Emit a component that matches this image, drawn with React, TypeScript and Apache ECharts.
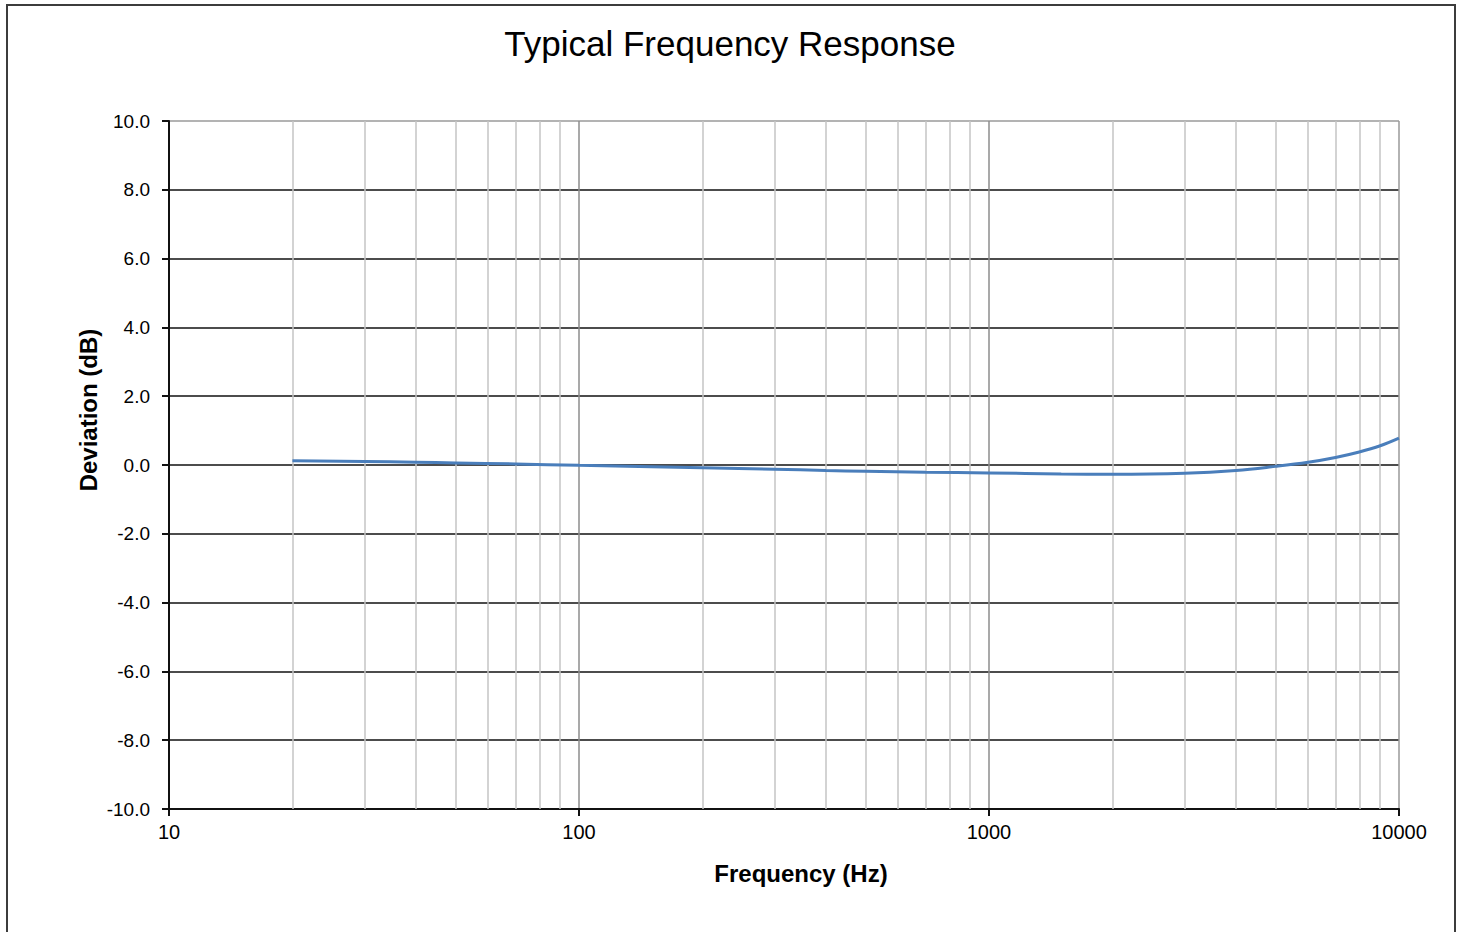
import React, { useEffect, useRef } from "react";
import * as echarts from "echarts";

const chartTitle = "Typical Frequency Response";
const xAxisTitle = "Frequency (Hz)";
const yAxisTitle = "Deviation (dB)";

const freqs = [20, 30, 40, 50, 70, 100, 150, 200, 300, 400, 500, 700, 1000, 1500, 2000, 3000, 4000, 5000, 6000, 7000, 8000, 9000, 10000];
const deviations = [0.12, 0.1, 0.08, 0.06, 0.03, -0.01, -0.05, -0.08, -0.12, -0.16, -0.18, -0.21, -0.23, -0.26, -0.27, -0.24, -0.16, -0.04, 0.08, 0.22, 0.38, 0.56, 0.78];

const minorGridFreqs = [20, 30, 40, 50, 60, 70, 80, 90, 200, 300, 400, 500, 600, 700, 800, 900, 2000, 3000, 4000, 5000, 6000, 7000, 8000, 9000];

const FONT = "'Liberation Sans', Arial, sans-serif";

export default function App() {
  const ref = useRef<HTMLDivElement>(null);
  useEffect(() => {
    if (!ref.current) return;
    const chart = echarts.init(ref.current, undefined, { renderer: "svg" });
    const curve = freqs.map((f, i) => [f, deviations[i]]);
    const hColors = [];
    for (let i = 0; i < 10; i++) hColors.push("#111111");
    hColors.push("#9a9a9a");
    chart.setOption({
      animation: false,
      backgroundColor: "#ffffff",
      textStyle: { fontFamily: FONT },
      grid: { left: 169, right: 61, top: 121, bottom: 123, containLabel: false },
      xAxis: {
        type: "log",
        logBase: 10,
        min: 10,
        max: 10000,
        axisLine: { onZero: false, lineStyle: { color: "#111111", width: 2 } },
        axisTick: { show: true, inside: false, length: 7, lineStyle: { color: "#111111", width: 2 } },
        axisLabel: {
          color: "#000",
          fontSize: 20,
          fontFamily: FONT,
          margin: 13,
          showMinLabel: true,
          showMaxLabel: true,
          formatter: (v: number) => String(Math.round(v)),
        },
        splitLine: { show: true, lineStyle: { color: ["#111111", "#8c8c8c", "#8c8c8c", "#9a9a9a"], width: 1.5 } },
        minorTick: { show: false },
      },
      yAxis: {
        type: "value",
        min: -10,
        max: 10,
        interval: 2,
        axisLine: { show: true, onZero: false, lineStyle: { color: "#111111", width: 2 } },
        axisTick: { show: true, inside: false, length: 7, lineStyle: { color: "#111111", width: 2 } },
        axisLabel: { color: "#000", fontSize: 19, fontFamily: FONT, margin: 19, formatter: (v: number) => v.toFixed(1) },
        splitLine: { show: true, lineStyle: { color: hColors, width: 1.5 } },
      },
      series: [
        {
          type: "line",
          z: 1,
          data: curve,
          symbol: "none",
          lineStyle: { width: 0, opacity: 0 },
          silent: true,
          markLine: {
            z: 1,
            silent: true,
            symbol: ["none", "none"],
            label: { show: false },
            lineStyle: { type: "solid", color: "#c4c4c4", width: 1.5 },
            data: minorGridFreqs.map((f) => ({ xAxis: f })),
          },
        },
        {
          type: "line",
          z: 3,
          data: curve,
          smooth: 0.4,
          symbol: "none",
          lineStyle: { color: "#4a7ebb", width: 3 },
        },
      ],
      graphic: [
        {
          type: "rect",
          shape: { x: 7, y: 5, width: 1448, height: 960 },
          style: { fill: "none", stroke: "#3c3c3c", lineWidth: 2 },
          z: 0,
        },
        {
          type: "text",
          x: 730,
          y: 43,
          style: { text: chartTitle, fill: "#000", font: `35px ${FONT}`, align: "center", verticalAlign: "middle" },
        },
        {
          type: "text",
          x: 801,
          y: 873,
          style: { text: xAxisTitle, fill: "#000", font: `bold 24px ${FONT}`, align: "center", verticalAlign: "middle" },
        },
        {
          type: "text",
          x: 88,
          y: 410,
          rotation: Math.PI / 2,
          style: { text: yAxisTitle, fill: "#000", font: `bold 24px ${FONT}`, align: "center", verticalAlign: "middle" },
        },
      ],
    });
    return () => chart.dispose();
  }, []);
  return <div ref={ref} style={{ position: "fixed", left: 0, top: 0, width: 1460, height: 932 }} />;
}
